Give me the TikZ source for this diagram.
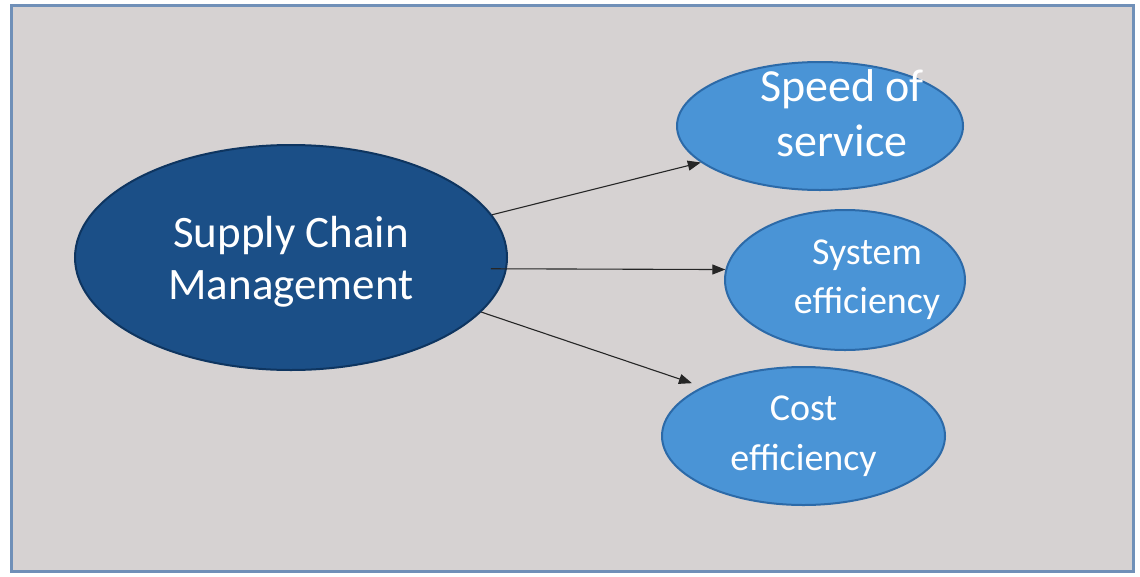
\documentclass[tikz,border=0pt]{standalone}
\usepackage{fontspec}
\setmainfont{Carlito}
\usetikzlibrary{shapes.geometric,arrows.meta}
\definecolor{bgcol}{HTML}{D6D2D2}
\definecolor{framecol}{HTML}{7090B8}
\definecolor{darkfill}{HTML}{1B4F87}
\definecolor{darkedge}{HTML}{0E3560}
\definecolor{lightfill}{HTML}{4A94D6}
\definecolor{lightedge}{HTML}{2C6AA8}
\tikzset{
  mainell/.style={ellipse, fill=darkfill, draw=darkedge, line width=2pt, inner sep=0pt},
  subell/.style={ellipse, fill=lightfill, draw=lightedge, line width=2pt, inner sep=0pt},
  lbl/.style={text=white, align=center, inner sep=0pt},
  conn/.style={line width=1.1pt, draw=black!85, -{Triangle[length=13pt,width=10pt]}}
}
\begin{document}
\begin{tikzpicture}[x=1pt,y=-1pt]
\useasboundingbox (0,0) rectangle (1140,576);
\fill[white] (0,0) rectangle (1140,576);
\draw[fill=bgcol, draw=framecol, line width=3pt] (11,5) rectangle (1133,571);

\node[mainell, minimum width=432pt, minimum height=225pt] (scm) at (291,257.5) {};
\node[lbl, font=\fontsize{45}{52}\selectfont] (scmt) at ([yshift=-4pt]scm.center) {Supply Chain\\Management};

\node[subell, minimum width=286pt, minimum height=128pt] (speed) at (820,126) {};
\node[lbl, font=\fontsize{46}{55}\selectfont] (speedt) at ([xshift=22pt,yshift=13pt]speed.center) {Speed of\\service};

\node[subell, minimum width=240pt, minimum height=140pt] (sys) at (845,280) {};
\node[lbl, font=\fontsize{38}{49}\selectfont] (syst) at ([xshift=22pt]sys.center) {System\\efficiency};

\node[subell, minimum width=283pt, minimum height=138pt] (cost) at (803.5,436) {};
\node[lbl, font=\fontsize{38}{50}\selectfont] (costt) at (cost.center) {Cost\\efficiency};

\draw[conn] (scm.12) -- (speed.197);
\draw[conn, shorten <=-16pt] (scm.-3) -- (sys.175);
\draw[conn, shorten >=11pt] (scm.-16.5) -- (cost.154);
\end{tikzpicture}
\end{document}
